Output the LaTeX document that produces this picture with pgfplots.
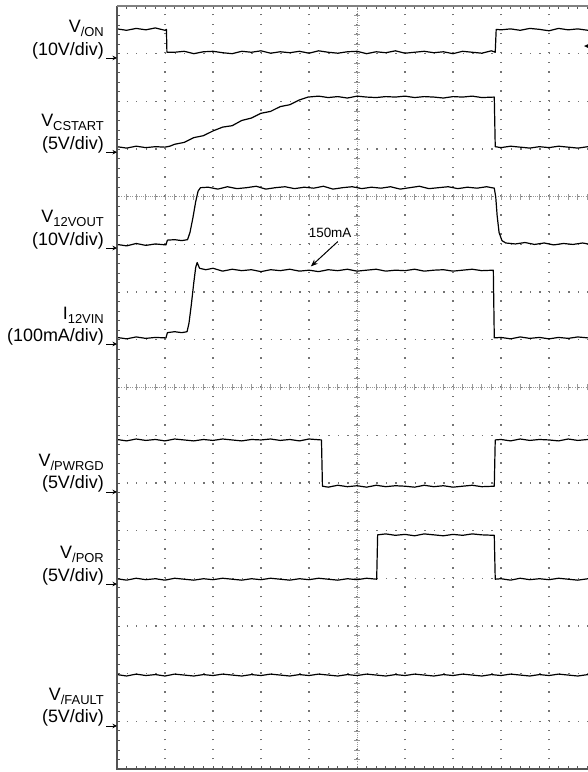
\documentclass[border=0pt]{standalone}
\usepackage{fontspec}
\setmainfont{Liberation Sans}
\usepackage{pgfplots}
\pgfplotsset{compat=1.18}
\usetikzlibrary{arrows.meta}

% scope subscript, dropped below the baseline
\newcommand\sub[1]{\raisebox{-4bp}{\fontsize{13}{14}\selectfont #1}}

\begin{document}
\begin{tikzpicture}
\begin{axis}[
    name=ax,
    scale only axis,
    width=471bp, height=763bp,
    xmin=0, xmax=9.8125, ymin=0, ymax=16,
    clip=false,
    axis line style={draw=none},
    xtick={1,...,9}, ytick={1,...,15},
    minor xtick={0,0.2,...,9.8}, minor ytick={0,0.2,...,16},
    xticklabels={}, yticklabels={},
    ytick pos=left,
    tick align=inside,
    major tick length=3bp, minor tick length=3bp,
    tick style={gray!70!black, line width=0.7bp},
    grid=major,
    major x grid style={black!55, line width=1.3bp, dash pattern=on 1.3bp off 8.24bp},
    major y grid style={black!55, line width=1.3bp, dash pattern=on 1.3bp off 8.3bp},
    every axis plot post/.append style={black, solid, mark=none, line width=1.2bp, line join=round},
]

% centre lines of the graticule
\draw[gray!80, line width=0.8bp, dash pattern=on 1bp off 1.2bp] (axis cs:5,0) -- (axis cs:5,16);
\draw[gray!80, line width=0.8bp, dash pattern=on 1bp off 1.2bp] (axis cs:0,12) -- (axis cs:9.8125,12);
\draw[gray!80, line width=0.8bp, dash pattern=on 1bp off 1.2bp] (axis cs:0,8) -- (axis cs:9.8125,8);
\pgfplotsinvokeforeach{0,0.2,...,16}{
  \draw[gray!80, line width=0.6bp] ([xshift=-3bp]axis cs:5,#1) -- ([xshift=3bp]axis cs:5,#1);
}
\pgfplotsinvokeforeach{0,0.2,...,9.8}{
  \draw[gray!80, line width=0.6bp] ([yshift=-3bp]axis cs:#1,12) -- ([yshift=3bp]axis cs:#1,12);
  \draw[gray!80, line width=0.6bp] ([yshift=-3bp]axis cs:#1,8) -- ([yshift=3bp]axis cs:#1,8);
}

% V/ON
\addplot coordinates {
(0,15.52) (0.2,15.49) (0.4,15.53) (0.6,15.50) (0.8,15.54) (1.0,15.49) (1.03,15.51)
(1.04,15.03) (1.2,15.03) (1.4,15.05) (1.6,15.00) (1.8,15.04) (2.0,15.05) (2.2,15.02)
(2.4,15.00) (2.6,15.05) (2.8,15.03) (3.0,15.06) (3.2,15.01) (3.4,15.04) (3.6,15.02)
(3.8,15.05) (4.0,15.01) (4.2,15.06) (4.4,15.03) (4.6,15.01) (4.8,15.04) (5.0,15.05)
(5.2,15.00) (5.4,15.04) (5.6,15.02) (5.8,15.06) (6.0,15.01) (6.2,15.03) (6.4,15.05)
(6.6,15.02) (6.8,15.04) (7.0,15.00) (7.2,15.05) (7.4,15.03) (7.6,15.01) (7.8,15.06)
(7.88,15.03) (7.90,15.51) (8.0,15.50) (8.2,15.52) (8.4,15.49) (8.6,15.53) (8.8,15.51)
(9.0,15.48) (9.2,15.53) (9.4,15.50) (9.6,15.52) (9.8125,15.49)
};

% V_CSTART
\addplot coordinates {
(0,13.05) (0.2,13.02) (0.4,13.06) (0.6,13.03) (0.8,13.05) (1.0,13.04) (1.1,13.06)
(1.2,13.10) (1.4,13.14) (1.6,13.24) (1.8,13.28) (2.0,13.38) (2.2,13.46) (2.4,13.49)
(2.6,13.60) (2.8,13.65) (3.0,13.75) (3.2,13.79) (3.4,13.89) (3.6,13.93) (3.8,14.03)
(3.98,14.09) (4.2,14.11) (4.4,14.08) (4.6,14.10) (4.8,14.07) (5.0,14.11) (5.2,14.09)
(5.4,14.08) (5.6,14.10) (5.8,14.09) (6.0,14.11) (6.2,14.08) (6.4,14.10) (6.6,14.09)
(6.8,14.07) (7.0,14.10) (7.2,14.09) (7.4,14.11) (7.6,14.08) (7.86,14.09)
(7.88,13.05) (8.0,13.03) (8.2,13.06) (8.4,13.04) (8.6,13.02) (8.8,13.05) (9.0,13.03)
(9.2,13.06) (9.4,13.04) (9.6,13.02) (9.8125,13.05)
};

% V_12VOUT
\addplot coordinates {
(0,11.00) (0.2,10.97) (0.4,11.02) (0.6,10.98) (0.8,11.01) (1.02,10.99)
(1.05,11.09) (1.2,11.10) (1.35,11.08) (1.47,11.10)
(1.52,11.25) (1.58,11.55) (1.64,11.90) (1.69,12.12) (1.74,12.19)
(1.9,12.20) (2.1,12.16) (2.3,12.21) (2.5,12.17) (2.7,12.19) (2.9,12.22) (3.1,12.16)
(3.3,12.19) (3.5,12.21) (3.7,12.17) (3.9,12.20) (4.1,12.18) (4.3,12.22) (4.5,12.16)
(4.7,12.19) (4.9,12.21) (5.1,12.17) (5.3,12.20) (5.5,12.18) (5.7,12.21) (5.9,12.16)
(6.1,12.19) (6.3,12.22) (6.5,12.17) (6.7,12.19) (6.9,12.21) (7.1,12.17) (7.3,12.20)
(7.5,12.18) (7.7,12.21) (7.86,12.18)
(7.89,12.00) (7.92,11.60) (7.96,11.25) (8.02,11.08) (8.1,11.03)
(8.3,11.01) (8.5,11.04) (8.7,11.00) (8.9,11.03) (9.1,10.99) (9.3,11.02) (9.5,11.00)
(9.7,11.03) (9.8125,11.01)
};

% I_12VIN
\addplot coordinates {
(0,9.05) (0.2,9.02) (0.4,9.06) (0.6,9.03) (0.8,9.05) (1.02,9.04)
(1.05,9.15) (1.2,9.17) (1.35,9.15) (1.46,9.17)
(1.50,9.35) (1.55,9.75) (1.60,10.20) (1.64,10.52) (1.67,10.62) (1.72,10.50)
(1.85,10.47) (2.0,10.50) (2.2,10.44) (2.4,10.48) (2.6,10.45) (2.8,10.47) (3.0,10.43)
(3.2,10.47) (3.4,10.45) (3.6,10.48) (3.8,10.44) (4.0,10.46) (4.2,10.43) (4.4,10.47)
(4.6,10.45) (4.8,10.48) (5.0,10.44) (5.2,10.46) (5.4,10.48) (5.6,10.44) (5.8,10.46)
(6.0,10.45) (6.2,10.48) (6.4,10.44) (6.6,10.46) (6.8,10.47) (7.0,10.44) (7.2,10.46)
(7.4,10.48) (7.6,10.45) (7.84,10.46)
(7.86,9.04) (8.0,9.05) (8.2,9.02) (8.4,9.06) (8.6,9.03) (8.8,9.05) (9.0,9.02)
(9.2,9.05) (9.4,9.03) (9.6,9.06) (9.8125,9.04)
};

% V/PWRGD
\addplot coordinates {
(0,6.91) (0.2,6.88) (0.4,6.92) (0.6,6.89) (0.8,6.91) (1.0,6.88) (1.2,6.92) (1.4,6.90)
(1.6,6.88) (1.8,6.91) (2.0,6.89) (2.2,6.92) (2.4,6.90) (2.6,6.88) (2.8,6.91) (3.0,6.90)
(3.2,6.92) (3.4,6.89) (3.6,6.91) (3.8,6.88) (4.0,6.92) (4.26,6.90)
(4.28,5.93) (4.4,5.91) (4.6,5.95) (4.8,5.92) (5.0,5.94) (5.2,5.91) (5.4,5.95) (5.6,5.92)
(5.8,5.94) (6.0,5.93) (6.2,5.91) (6.4,5.95) (6.6,5.92) (6.8,5.94) (7.0,5.91) (7.2,5.93)
(7.4,5.95) (7.6,5.92) (7.86,5.93)
(7.88,6.90) (8.0,6.91) (8.2,6.88) (8.4,6.92) (8.6,6.89) (8.8,6.91) (9.0,6.90) (9.2,6.88)
(9.4,6.92) (9.6,6.89) (9.8125,6.91)
};

% V/POR
\addplot coordinates {
(0,3.99) (0.2,3.96) (0.4,4.00) (0.6,3.97) (0.8,3.99) (1.0,3.96) (1.2,4.00) (1.4,3.98)
(1.6,3.96) (1.8,3.99) (2.0,3.97) (2.2,4.00) (2.4,3.98) (2.6,3.96) (2.8,3.99) (3.0,3.97)
(3.2,4.00) (3.4,3.98) (3.6,3.96) (3.8,3.99) (4.0,3.97) (4.2,4.00) (4.4,3.98) (4.6,3.96)
(4.8,3.99) (5.0,3.97) (5.2,4.00) (5.41,3.98)
(5.43,4.91) (5.6,4.93) (5.8,4.90) (6.0,4.92) (6.2,4.89) (6.4,4.93) (6.6,4.91) (6.8,4.89)
(7.0,4.92) (7.2,4.90) (7.4,4.93) (7.6,4.91) (7.86,4.90)
(7.88,3.98) (8.0,3.99) (8.2,3.96) (8.4,4.00) (8.6,3.97) (8.8,3.99) (9.0,3.97) (9.2,4.00)
(9.4,3.98) (9.6,3.96) (9.8125,3.99)
};

% V/FAULT
\addplot coordinates {
(0,1.98) (0.2,1.95) (0.4,1.99) (0.6,1.96) (0.8,1.98) (1.0,1.95) (1.2,1.99) (1.4,1.97)
(1.6,1.95) (1.8,1.98) (2.0,1.96) (2.2,1.99) (2.4,1.97) (2.6,1.95) (2.8,1.98) (3.0,1.96)
(3.2,1.99) (3.4,1.97) (3.6,1.95) (3.8,1.98) (4.0,1.96) (4.2,1.99) (4.4,1.97) (4.6,1.95)
(4.8,1.98) (5.0,1.96) (5.2,1.99) (5.4,1.97) (5.6,1.95) (5.8,1.98) (6.0,1.96) (6.2,1.99)
(6.4,1.97) (6.6,1.95) (6.8,1.98) (7.0,1.96) (7.2,1.99) (7.4,1.97) (7.6,1.95) (7.8,1.98)
(8.0,1.96) (8.2,1.99) (8.4,1.97) (8.6,1.95) (8.8,1.98) (9.0,1.96) (9.2,1.99) (9.4,1.97)
(9.6,1.95) (9.8125,1.98)
};

% frame
\draw[gray!65!black, line width=1.8bp] (rel axis cs:0,1) -- (rel axis cs:0,0) -- (rel axis cs:1,0);
\draw[gray, line width=1.3bp] (rel axis cs:0,1) -- (rel axis cs:1,1);

% channel labels and ground markers
\tikzset{lab/.style={anchor=base east, inner sep=0pt, font=\fontsize{18}{20}\selectfont},
         gnd/.style={black, line width=0.8bp, -{Stealth[length=4.5bp,width=4.5bp]}}}
\node[lab] at (axis cs:-0.27,15.434) {V\sub{/ON}};
\node[lab] at (axis cs:-0.27,14.972) {(10V/div)};
\draw[gnd] (axis cs:-0.22,14.910) -- (axis cs:0,14.910);

\node[lab] at (axis cs:-0.27,13.463) {V\sub{CSTART}};
\node[lab] at (axis cs:-0.27,13.001) {(5V/div)};
\draw[gnd] (axis cs:-0.22,12.934) -- (axis cs:0,12.934);

\node[lab] at (axis cs:-0.27,11.450) {V\sub{12VOUT}};
\node[lab] at (axis cs:-0.27,10.988) {(10V/div)};
\draw[gnd] (axis cs:-0.22,10.925) -- (axis cs:0,10.925);

\node[lab] at (axis cs:-0.27,9.436) {I\sub{12VIN}};
\node[lab] at (axis cs:-0.27,8.975) {(100mA/div)};
\draw[gnd] (axis cs:-0.22,8.912) -- (axis cs:0,8.912);

\node[lab] at (axis cs:-0.27,6.333) {V\sub{/PWRGD}};
\node[lab] at (axis cs:-0.27,5.872) {(5V/div)};
\draw[gnd] (axis cs:-0.22,5.809) -- (axis cs:0,5.809);

\node[lab] at (axis cs:-0.27,4.404) {V\sub{/POR}};
\node[lab] at (axis cs:-0.27,3.942) {(5V/div)};
\draw[gnd] (axis cs:-0.22,3.879) -- (axis cs:0,3.879);

\node[lab] at (axis cs:-0.27,1.426) {V\sub{/FAULT}};
\node[lab] at (axis cs:-0.27,0.965) {(5V/div)};
\draw[gnd] (axis cs:-0.22,0.902) -- (axis cs:0,0.902);

% 150mA annotation
\node[font=\fontsize{13.5}{16}\selectfont, inner sep=0pt] at (axis cs:4.44,11.24) {150mA};
\draw[black, line width=1bp, -{Stealth[length=7bp,width=5.5bp]}] (axis cs:4.60,11.06) -- (axis cs:4.04,10.54);

% trigger level marker at the right edge
\fill[black] (axis cs:9.73,15.16) -- (axis cs:9.90,15.24) -- (axis cs:9.90,15.08) -- cycle;
\end{axis}
\pgfresetboundingbox
\path[use as bounding box] ([xshift=-117bp,yshift=-3bp]ax.south west) rectangle ([yshift=6bp]ax.north east);
\end{tikzpicture}
\end{document}
